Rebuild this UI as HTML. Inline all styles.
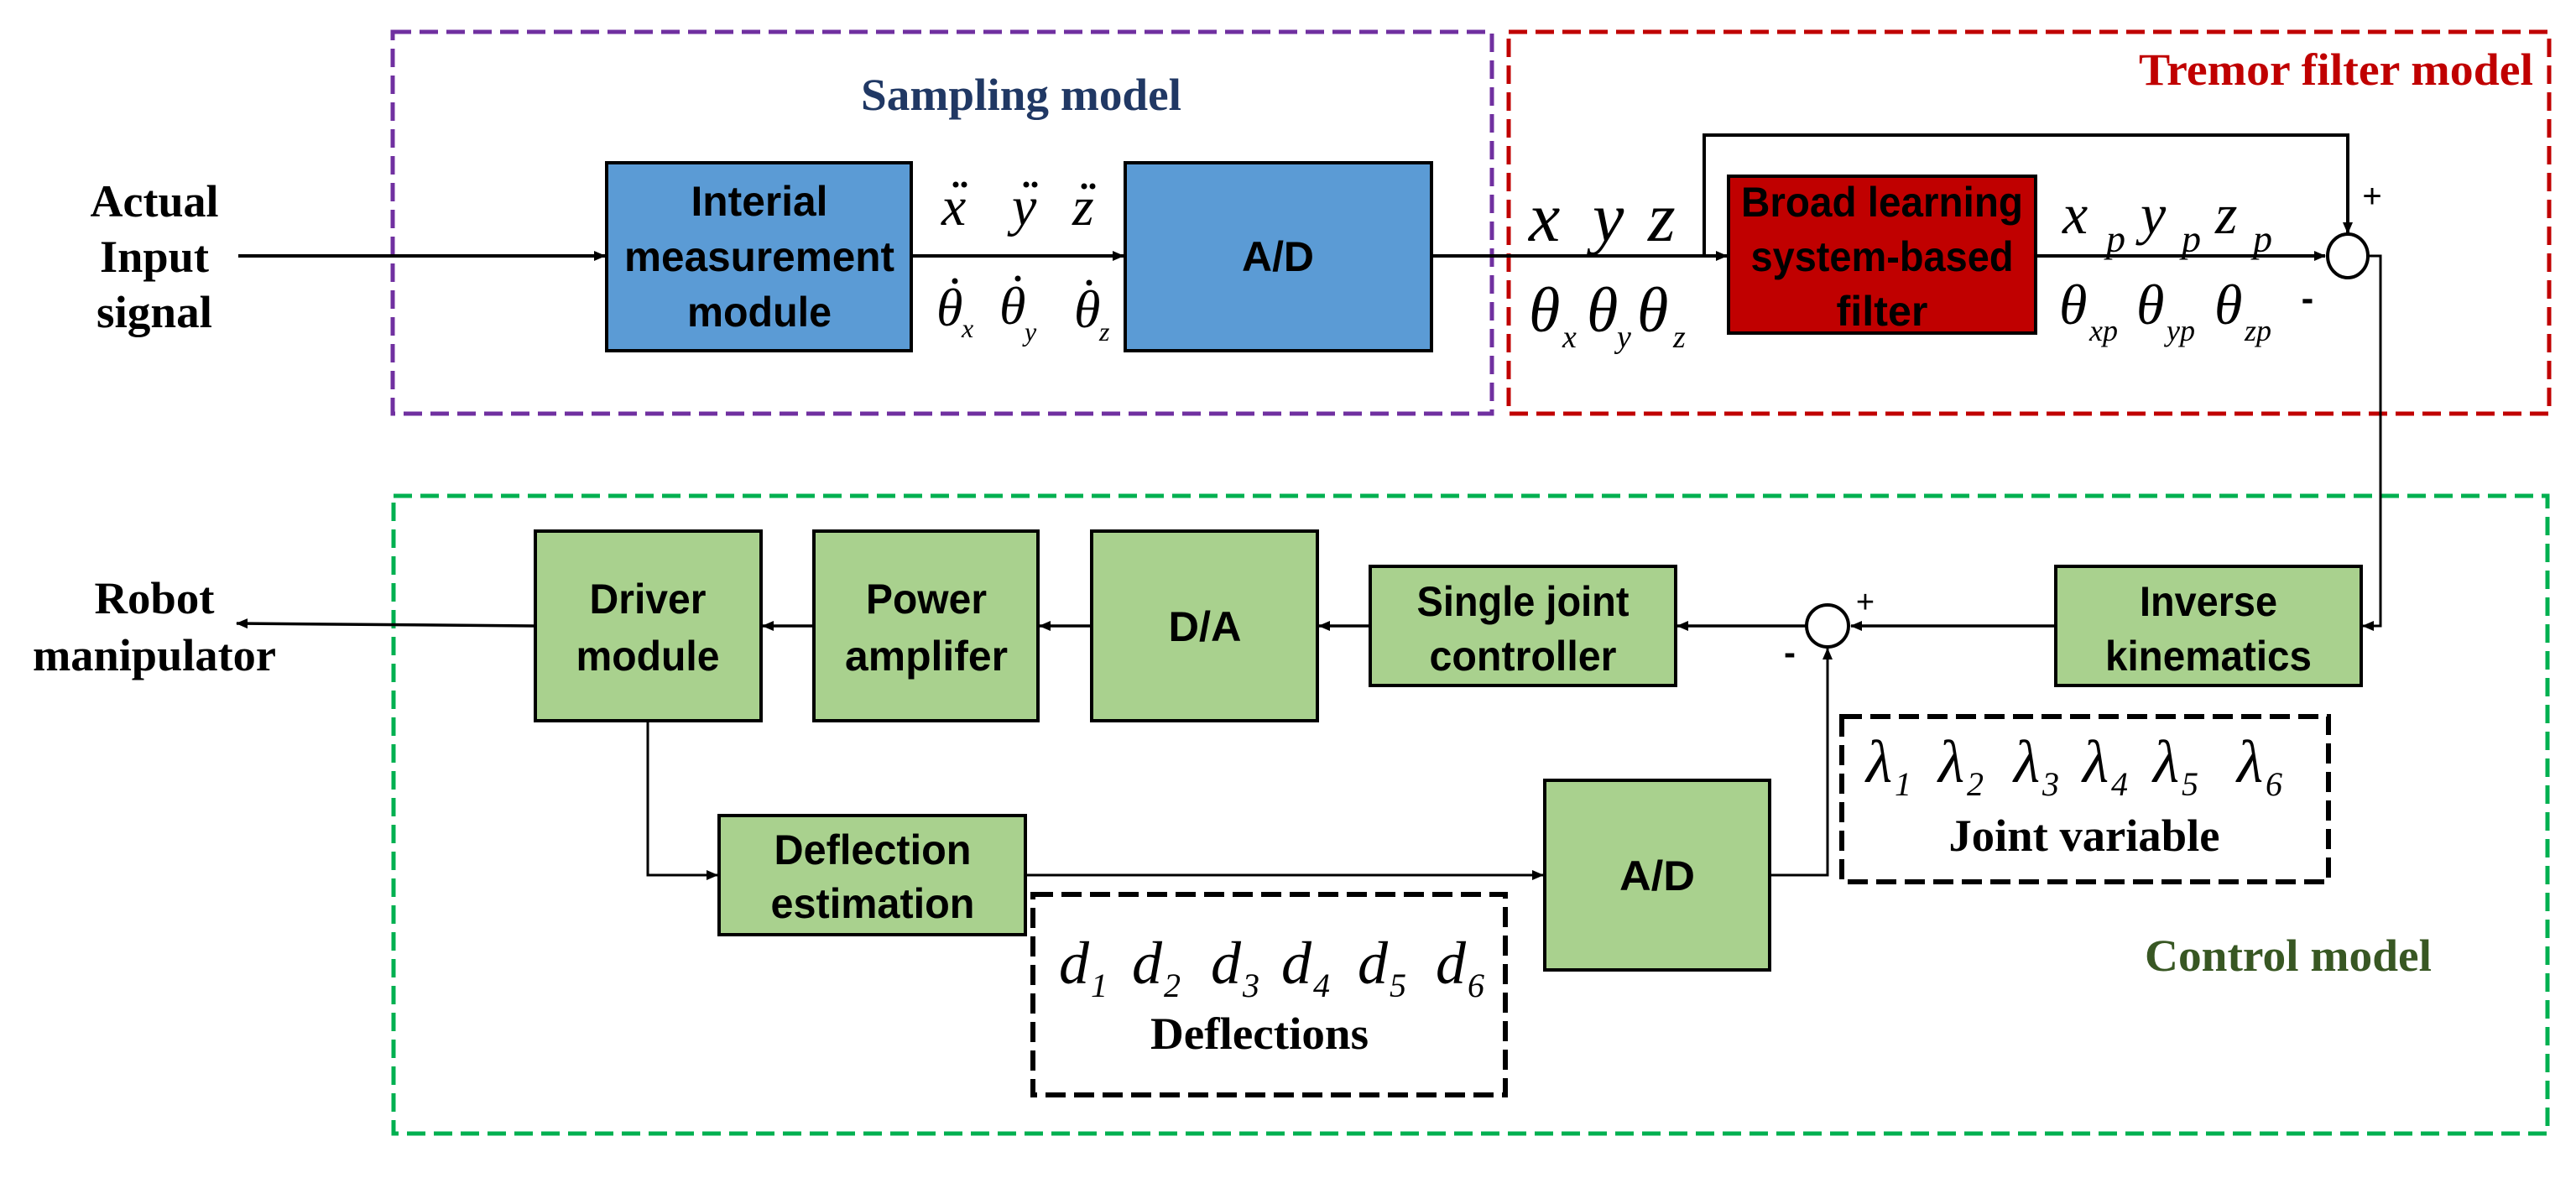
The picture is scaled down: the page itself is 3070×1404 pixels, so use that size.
<!DOCTYPE html>
<html><head><meta charset="utf-8"><style>
html,body{margin:0;padding:0;background:#fff;}
svg{display:block;}
.sb{font-family:"Liberation Sans",sans-serif;font-weight:bold;font-size:50px;fill:#000;}
.sf{font-family:"Liberation Serif",serif;font-weight:bold;font-size:54px;}
.m{font-family:"Liberation Serif",serif;font-style:italic;fill:#000;}
</style></head><body>
<svg width="3070" height="1404" viewBox="0 0 3070 1404" xmlns="http://www.w3.org/2000/svg">
<defs>
<marker id="a" markerWidth="14" markerHeight="14" refX="13" refY="7" orient="auto" markerUnits="userSpaceOnUse"><path d="M0,1 L14,7 L0,13 Z" fill="#000"/></marker>
</defs>

<rect x="468" y="38" width="1310" height="455" fill="none" stroke="#7030a0" stroke-width="5" stroke-dasharray="22,10"/>
<rect x="1798" y="38" width="1240" height="455" fill="none" stroke="#c00000" stroke-width="5" stroke-dasharray="22,10"/>
<rect x="469" y="591" width="2567" height="760" fill="none" stroke="#00b050" stroke-width="5" stroke-dasharray="22,10"/>

<text class="sf" x="1217" y="131" fill="#203864" text-anchor="middle" textLength="382" lengthAdjust="spacingAndGlyphs">Sampling model</text>
<text class="sf" x="2784" y="101" fill="#c00000" text-anchor="middle" textLength="470" lengthAdjust="spacingAndGlyphs">Tremor filter model</text>
<text class="sf" x="2727" y="1157" fill="#385723" text-anchor="middle" textLength="342" lengthAdjust="spacingAndGlyphs">Control model</text>

<g class="sf" fill="#000" text-anchor="middle">
<text x="184" y="258" textLength="153" lengthAdjust="spacingAndGlyphs">Actual</text>
<text x="184" y="324" textLength="130" lengthAdjust="spacingAndGlyphs">Input</text>
<text x="184" y="390" textLength="138" lengthAdjust="spacingAndGlyphs">signal</text>
<text x="184" y="731" textLength="143" lengthAdjust="spacingAndGlyphs">Robot</text>
<text x="184" y="799" textLength="290" lengthAdjust="spacingAndGlyphs">manipulator</text>
</g>

<rect x="723" y="194" width="363" height="224" fill="#5b9bd5" stroke="#000" stroke-width="4"/>
<rect x="1341" y="194" width="365" height="224" fill="#5b9bd5" stroke="#000" stroke-width="4"/>
<g class="sb" text-anchor="middle">
<text x="905" y="257" textLength="163" lengthAdjust="spacingAndGlyphs">Interial</text>
<text x="905" y="323" textLength="322" lengthAdjust="spacingAndGlyphs">measurement</text>
<text x="905" y="389" textLength="172" lengthAdjust="spacingAndGlyphs">module</text>
<text x="1523" y="323" textLength="86" lengthAdjust="spacingAndGlyphs">A/D</text>
</g>

<rect x="2060" y="210" width="366" height="187" fill="#c00000" stroke="#000" stroke-width="4"/>
<g class="sb" text-anchor="middle">
<text x="2243" y="258" textLength="336" lengthAdjust="spacingAndGlyphs">Broad learning</text>
<text x="2243" y="323" textLength="313" lengthAdjust="spacingAndGlyphs">system-based</text>
<text x="2243" y="388" textLength="109" lengthAdjust="spacingAndGlyphs">filter</text>
</g>

<line x1="284" y1="305" x2="721" y2="305" stroke="#000" stroke-width="4" marker-end="url(#a)"/>
<line x1="1086" y1="305" x2="1339" y2="305" stroke="#000" stroke-width="4" marker-end="url(#a)"/>
<line x1="1706" y1="305" x2="2058" y2="305" stroke="#000" stroke-width="4" marker-end="url(#a)"/>
<polyline points="2031,305 2031,161 2798,161 2798,278" fill="none" stroke="#000" stroke-width="4" marker-end="url(#a)"/>
<line x1="2426" y1="305" x2="2771" y2="305" stroke="#000" stroke-width="4" marker-end="url(#a)"/>
<ellipse cx="2798" cy="305" rx="24" ry="26" fill="#fff" stroke="#000" stroke-width="4"/>
<polyline points="2822,305 2837,305 2837,746 2816,746" fill="none" stroke="#000" stroke-width="3" marker-end="url(#a)"/>
<text x="2827" y="247" font-family="Liberation Sans,sans-serif" font-size="40" text-anchor="middle">+</text>
<text x="2750" y="370" font-family="Liberation Sans,sans-serif" font-size="44" font-weight="bold" text-anchor="middle">-</text>

<g class="m" font-size="66">
<text x="1122" y="268">x</text><text x="1206" y="268">y</text><text x="1278" y="268">z</text>
</g>
<g fill="#000">
<circle cx="1139" cy="220" r="3.5"/><circle cx="1149" cy="220" r="3.5"/>
<circle cx="1223" cy="220" r="3.5"/><circle cx="1233" cy="220" r="3.5"/>
<circle cx="1292" cy="222" r="3.5"/><circle cx="1302" cy="222" r="3.5"/>
<circle cx="1138" cy="335" r="3.5"/><circle cx="1213" cy="332" r="3.5"/><circle cx="1298" cy="337" r="3.5"/>
</g>
<g class="m">
<text x="1116" y="388" font-size="64">θ</text><text x="1146" y="402" font-size="32">x</text>
<text x="1191" y="386" font-size="64">θ</text><text x="1221" y="406" font-size="32">y</text>
<text x="1280" y="390" font-size="64">θ</text><text x="1310" y="406" font-size="32">z</text>
</g>

<g class="m">
<text x="1822" y="287" font-size="84">x</text>
<text x="1898" y="287" font-size="84">y</text>
<text x="1964" y="287" font-size="84">z</text>
<text x="1822" y="395" font-size="76">θ</text><text x="1862" y="414" font-size="38">x</text>
<text x="1891" y="395" font-size="76">θ</text><text x="1927" y="414" font-size="38">y</text>
<text x="1951" y="395" font-size="76">θ</text><text x="1994" y="414" font-size="38">z</text>
<text x="2458" y="278" font-size="68">x</text><text x="2510" y="300" font-size="46">p</text>
<text x="2551" y="278" font-size="68">y</text><text x="2600" y="300" font-size="46">p</text>
<text x="2640" y="278" font-size="68">z</text><text x="2685" y="300" font-size="46">p</text>
<text x="2454" y="386" font-size="68">θ</text><text x="2490" y="406" font-size="36">xp</text>
<text x="2546" y="386" font-size="68">θ</text><text x="2582" y="406" font-size="36">yp</text>
<text x="2639" y="386" font-size="68">θ</text><text x="2675" y="406" font-size="36">zp</text>
</g>

<g fill="#a9d18e" stroke="#000" stroke-width="4">
<rect x="638" y="633" width="269" height="226"/>
<rect x="970" y="633" width="267" height="226"/>
<rect x="1301" y="633" width="269" height="226"/>
<rect x="1633" y="675" width="364" height="142"/>
<rect x="2450" y="675" width="364" height="142"/>
<rect x="857" y="972" width="365" height="142"/>
<rect x="1841" y="930" width="268" height="226"/>
</g>
<g class="sb" text-anchor="middle">
<text x="772" y="731" textLength="139" lengthAdjust="spacingAndGlyphs">Driver</text>
<text x="772" y="799" textLength="171" lengthAdjust="spacingAndGlyphs">module</text>
<text x="1104" y="731" textLength="144" lengthAdjust="spacingAndGlyphs">Power</text>
<text x="1104" y="799" textLength="194" lengthAdjust="spacingAndGlyphs">amplifer</text>
<text x="1436" y="764" textLength="87" lengthAdjust="spacingAndGlyphs">D/A</text>
<text x="1815" y="734" textLength="253" lengthAdjust="spacingAndGlyphs">Single joint</text>
<text x="1815" y="799" textLength="223" lengthAdjust="spacingAndGlyphs">controller</text>
<text x="2632" y="734" textLength="164" lengthAdjust="spacingAndGlyphs">Inverse</text>
<text x="2632" y="799" textLength="246" lengthAdjust="spacingAndGlyphs">kinematics</text>
<text x="1040" y="1030" textLength="235" lengthAdjust="spacingAndGlyphs">Deflection</text>
<text x="1040" y="1094" textLength="243" lengthAdjust="spacingAndGlyphs">estimation</text>
<text x="1975" y="1061" textLength="90" lengthAdjust="spacingAndGlyphs">A/D</text>
</g>

<line x1="2450" y1="746" x2="2206" y2="746" stroke="#000" stroke-width="3.5" marker-end="url(#a)"/>
<ellipse cx="2178" cy="746" rx="25" ry="25" fill="#fff" stroke="#000" stroke-width="4"/>
<line x1="2153" y1="746" x2="1999" y2="746" stroke="#000" stroke-width="3.5" marker-end="url(#a)"/>
<line x1="1633" y1="746" x2="1572" y2="746" stroke="#000" stroke-width="3.5" marker-end="url(#a)"/>
<line x1="1301" y1="746" x2="1239" y2="746" stroke="#000" stroke-width="3.5" marker-end="url(#a)"/>
<line x1="970" y1="746" x2="909" y2="746" stroke="#000" stroke-width="3.5" marker-end="url(#a)"/>
<line x1="638" y1="746" x2="282" y2="743" stroke="#000" stroke-width="3.5" marker-end="url(#a)"/>
<polyline points="772,859 772,1043 855,1043" fill="none" stroke="#000" stroke-width="3" marker-end="url(#a)"/>
<line x1="1222" y1="1043" x2="1839" y2="1043" stroke="#000" stroke-width="3" marker-end="url(#a)"/>
<polyline points="2109,1043 2178,1043 2178,773" fill="none" stroke="#000" stroke-width="3" marker-end="url(#a)"/>
<text x="2223" y="730" font-family="Liberation Sans,sans-serif" font-size="38" text-anchor="middle">+</text>
<text x="2133" y="792" font-family="Liberation Sans,sans-serif" font-size="42" font-weight="bold" text-anchor="middle">-</text>

<rect x="2195" y="854" width="580" height="197" fill="#fff" stroke="#000" stroke-width="6" stroke-dasharray="24,10"/>
<rect x="1231" y="1066" width="563" height="239" fill="#fff" stroke="#000" stroke-width="6" stroke-dasharray="24,10"/>
<g class="m" font-size="72">
<text x="2224" y="932">λ</text><text x="2258" y="948" font-size="40">1</text>
<text x="2310" y="932">λ</text><text x="2344" y="948" font-size="40">2</text>
<text x="2400" y="932">λ</text><text x="2434" y="948" font-size="40">3</text>
<text x="2482" y="932">λ</text><text x="2516" y="948" font-size="40">4</text>
<text x="2566" y="932">λ</text><text x="2600" y="948" font-size="40">5</text>
<text x="2666" y="932">λ</text><text x="2700" y="948" font-size="40">6</text>
<text x="1262" y="1172">d</text><text x="1300" y="1188" font-size="40">1</text>
<text x="1349" y="1172">d</text><text x="1387" y="1188" font-size="40">2</text>
<text x="1443" y="1172">d</text><text x="1481" y="1188" font-size="40">3</text>
<text x="1527" y="1172">d</text><text x="1565" y="1188" font-size="40">4</text>
<text x="1618" y="1172">d</text><text x="1656" y="1188" font-size="40">5</text>
<text x="1711" y="1172">d</text><text x="1749" y="1188" font-size="40">6</text>
</g>
<text class="sf" x="2484" y="1014" fill="#000" text-anchor="middle" textLength="323" lengthAdjust="spacingAndGlyphs">Joint variable</text>
<text class="sf" x="1501" y="1250" fill="#000" text-anchor="middle" textLength="260" lengthAdjust="spacingAndGlyphs">Deflections</text>
</svg>
</body></html>
